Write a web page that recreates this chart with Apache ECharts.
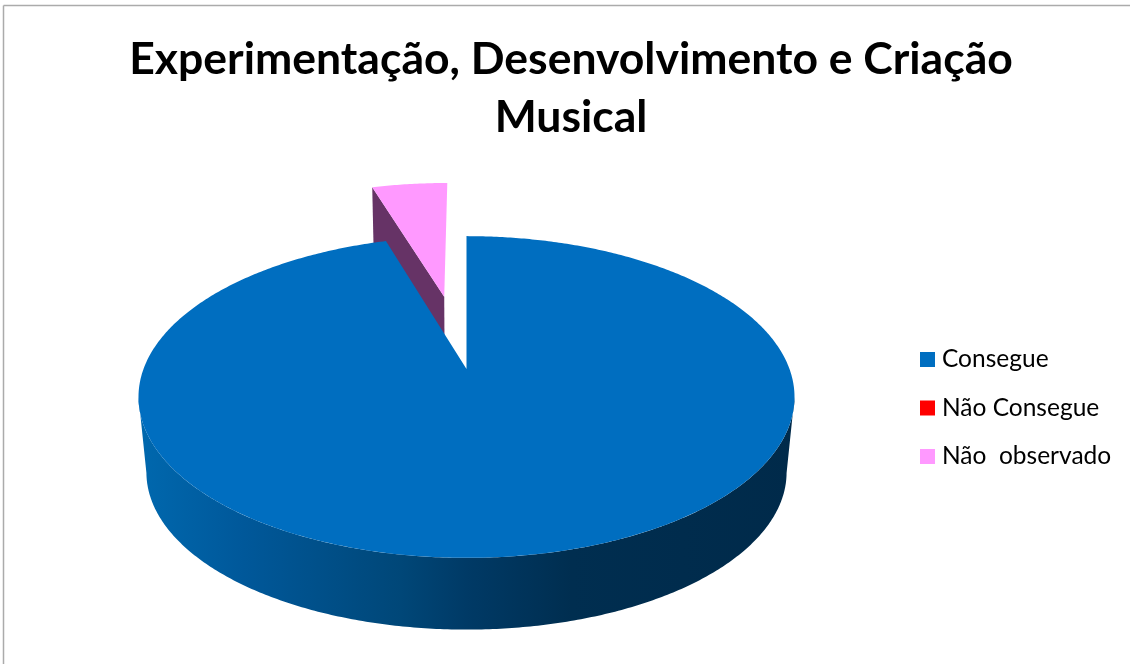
<!DOCTYPE html>
<html>
<head>
<meta charset="utf-8">
<style>html,body{margin:0;padding:0;background:#fff}#c{width:1130px;height:664px}</style>
<script src="https://cdn.jsdelivr.net/npm/echarts@6/dist/echarts.min.js"></script>
</head>
<body>
<div id="c"></div>
<script>
var titleText = 'Experimentação, Desenvolvimento e Criação\nMusical';
var categories = ['Consegue', 'Não Consegue', 'Não  observado'];
var values = [95.3, 0, 4.7];
var explode = [0, 0, 0.51];
var colors = ['#006EC0', '#FF0000', '#FF99FF'];
var sideColors = ['#0068AE', '#FF0000', '#663366'];

// perspective disc model (unit disc -> screen); z=0 top face, z=1 bottom face
var view = { cx: 466.5, cy: 369, R: 323, H: 156, Hb: 143, k: 0.174, D: 78.5, m: 0.024 };
var total = values.reduce(function (a, b) { return a + b; }, 0);
var starts = [];
values.reduce(function (acc, v, i) { starts[i] = acc; return acc + v; }, 0);

function project(u, v, z) {
  var s = 1 / (1 + view.m * z - view.k * v);
  var h = z ? view.Hb : view.H;
  return [view.cx + view.R * u * s, view.cy + (h * v + view.D * z) * s];
}
function rimPoint(a, off, z) {
  return project(off[0] + Math.sin(a), off[1] - Math.cos(a), z);
}
function arc(a0, a1, off, z) {
  var pts = [], n = Math.max(2, Math.ceil(Math.abs(a1 - a0) / 0.01));
  for (var i = 0; i <= n; i++) pts.push(rimPoint(a0 + (a1 - a0) * i / n, off, z));
  return pts;
}

function makeRender(idx) {
  return function (params, api) {
    var value = api.value(0);
    if (!value) return null;
    var a0 = starts[idx] / total * Math.PI * 2;
    var a1 = (starts[idx] + value) / total * Math.PI * 2;
    var mid = (a0 + a1) / 2;
    var off = [Math.sin(mid) * explode[idx], -Math.cos(mid) * explode[idx]];
    var apexTop = project(off[0], off[1], 0);
    var apexBottom = project(off[0], off[1], 1);
    var children = [];
    if (idx === 0) {
      // outer wall: the front-facing rim, sin(theta) > k
      var wa = Math.PI / 2 + Math.asin(view.k);
      var wb = Math.PI * 3 / 2 - Math.asin(view.k);
      var wall = arc(Math.max(a0, wa), Math.min(a1, wb), off, 0)
        .concat(arc(Math.min(a1, wb), Math.max(a0, wa), off, 1));
      children.push({
        type: 'polygon', shape: { points: wall },
        style: { fill: { type: 'linear', x: 0, y: 0, x2: 1, y2: 0, colorStops: [
          { offset: 0, color: '#0068AE' }, { offset: 0.16, color: '#00589A' },
          { offset: 0.40, color: '#004778' }, { offset: 0.50, color: '#003A66' },
          { offset: 0.66, color: '#002E50' }, { offset: 1, color: '#002A4A' }
        ] } }
      });
    } else {
      // cut face toward the viewer
      children.push({
        type: 'polygon',
        shape: { points: [apexTop, rimPoint(a0, off, 0), rimPoint(a0, off, 1), apexBottom] },
        style: { fill: sideColors[idx] }
      });
    }
    children.push({
      type: 'polygon',
      shape: { points: [apexTop].concat(arc(a0, a1, off, 0)) },
      style: { fill: colors[idx] }
    });
    return { type: 'group', children: children };
  };
}

var chart = echarts.init(document.getElementById('c'), null, { renderer: 'canvas' });
chart.setOption({
  animation: false,
  backgroundColor: '#fff',
  title: {
    text: titleText, left: 571, top: 31, textAlign: 'center', padding: 0,
    textStyle: { fontFamily: 'Lato', fontWeight: 'bold', fontSize: 44.5, lineHeight: 58, color: '#000' }
  },
  legend: {
    orient: 'vertical', left: 920, top: 347, padding: 0, itemWidth: 15, itemHeight: 15, itemGap: 23.5,
    icon: 'rect', data: categories, selectedMode: false,
    textStyle: { fontFamily: 'Lato', fontSize: 24.5, color: '#000', padding: [0, 0, 0, 2] }
  },
  graphic: [
    { type: 'line', shape: { x1: 3.5, y1: 5.5, x2: 3.5, y2: 664 }, style: { stroke: '#ABABAB', lineWidth: 1.5 } },
    { type: 'line', shape: { x1: 3.5, y1: 5.5, x2: 1130, y2: 5.5 }, style: { stroke: '#ABABAB', lineWidth: 1.5 } }
  ],
  series: categories.map(function (name, i) {
    return {
      type: 'custom', name: name, coordinateSystem: 'none',
      z: i === 0 ? 3 : 2, silent: true,
      itemStyle: { color: colors[i] },
      renderItem: makeRender(i),
      data: [[values[i]]]
    };
  })
});
</script>
</body>
</html>
